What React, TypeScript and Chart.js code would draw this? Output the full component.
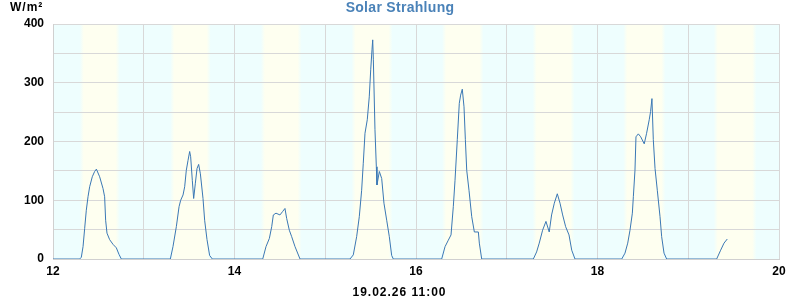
import React, { useEffect, useRef } from "react";
import { Chart, registerables } from "chart.js";

Chart.register(...registerables);

// ---- data (x in day-of-month, value in W/m²) ----
const startTimes = [12.0, 12.294];
const startValues = [0, 0];

const day12Times = [12.312, 12.331, 12.349, 12.367, 12.386, 12.404, 12.433, 12.459, 12.478, 12.514, 12.551, 12.569, 12.58, 12.595, 12.624, 12.661, 12.698, 12.727, 12.753];
const day12Values = [3, 21, 52, 83, 106, 123, 140, 149, 153, 140, 120, 106, 66, 44, 33, 25, 19, 8, 0];

const day13Times = [13.293, 13.322, 13.359, 13.389, 13.407, 13.433, 13.451, 13.469, 13.488, 13.506, 13.517, 13.535, 13.55, 13.568, 13.587, 13.605, 13.624, 13.653, 13.671, 13.697, 13.726, 13.756];
const day13Values = [0, 21, 55, 89, 100, 109, 123, 151, 168, 183, 174, 134, 103, 128, 154, 161, 145, 103, 66, 33, 6, 0];

const day14Times = [14.311, 14.347, 14.384, 14.41, 14.428, 14.457, 14.501, 14.531, 14.556, 14.575, 14.604, 14.63, 14.667, 14.722];
const day14Values = [0, 21, 35, 55, 75, 78, 75, 81, 86, 69, 49, 38, 21, 0];

const day15Times = [15.273, 15.309, 15.346, 15.375, 15.401, 15.419, 15.438, 15.463, 15.485, 15.501, 15.515, 15.523, 15.53, 15.548, 15.563, 15.57, 15.596, 15.622, 15.647, 15.677, 15.706, 15.732, 15.75];
const day15Values = [0, 7, 38, 72, 117, 163, 214, 237, 276, 322, 356, 373, 339, 220, 157, 126, 149, 137, 95, 66, 38, 6, 0];

const day16Times = [16.283, 16.32, 16.356, 16.386, 16.411, 16.43, 16.455, 16.477, 16.492, 16.51, 16.529, 16.544, 16.559, 16.584, 16.614, 16.643, 16.687, 16.698, 16.724];
const day16Values = [0, 21, 32, 41, 89, 134, 203, 265, 279, 289, 259, 203, 151, 117, 72, 46, 46, 27, 0];

const day17Times = [17.293, 17.329, 17.358, 17.395, 17.432, 17.468, 17.494, 17.524, 17.557, 17.587, 17.616, 17.649, 17.686, 17.716, 17.752];
const day17Values = [0, 12, 27, 49, 64, 46, 75, 95, 111, 95, 75, 55, 41, 15, 0];

const day18Times = [18.267, 18.303, 18.333, 18.358, 18.384, 18.395, 18.413, 18.424, 18.45, 18.476, 18.515, 18.541, 18.57, 18.585, 18.6, 18.615, 18.634, 18.659, 18.689, 18.707, 18.733, 18.762];
const day18Values = [0, 10, 27, 49, 78, 106, 151, 208, 213, 208, 196, 214, 237, 251, 273, 203, 154, 117, 72, 38, 10, 0];

const day19Times = [19.313, 19.357, 19.394, 19.43];
const day19Values = [0, 15, 27, 34];

// daylight bands (sunrise / sunset, day-of-month units)
const sunrise = [12.318, 13.315, 14.313, 15.311, 16.309, 17.307, 18.305, 19.303];
const sunset = [12.714, 13.716, 14.718, 15.72, 16.722, 17.724, 18.726, 19.728];

const xTickLabels = ["12", "14", "16", "18", "20"];
const yTickLabels = ["0", "100", "200", "300", "400"];

const titleText = "Solar Strahlung";
const unitText = "W/m²";
const footerText = "19.02.26 11:00";

const FONT = "'Liberation Sans', Arial, sans-serif";

function buildPoints() {
  const t = [...startTimes, ...day12Times, ...day13Times, ...day14Times, ...day15Times, ...day16Times, ...day17Times, ...day18Times, ...day19Times];
  const v = [...startValues, ...day12Values, ...day13Values, ...day14Values, ...day15Values, ...day16Values, ...day17Values, ...day18Values, ...day19Values];
  return t.map((x, i) => ({ x, y: v[i] }));
}

const bandsPlugin = {
  id: "bands",
  beforeDraw(chart: any) {
    const { ctx, chartArea, scales } = chart;
    const xs = scales.x;
    ctx.save();
    ctx.fillStyle = "#eefefe";
    ctx.fillRect(chartArea.left, chartArea.top, chartArea.right - chartArea.left, chartArea.bottom - chartArea.top);
    const w = 0.022;
    for (let i = 0; i < sunrise.length; i++) {
      const a = xs.getPixelForValue(sunrise[i] - w);
      const b = xs.getPixelForValue(sunset[i] + w);
      const aa = Math.max(a, chartArea.left);
      const bb = Math.min(b, chartArea.right);
      const g = ctx.createLinearGradient(a, 0, b, 0);
      const f = (2 * w) / (sunset[i] - sunrise[i] + 2 * w);
      g.addColorStop(0, "#eefefe");
      g.addColorStop(f, "#fefff0");
      g.addColorStop(1 - f, "#fefff0");
      g.addColorStop(1, "#eefefe");
      ctx.fillStyle = g;
      ctx.fillRect(aa, chartArea.top, bb - aa, chartArea.bottom - chartArea.top);
    }
    ctx.restore();
  },
};

const textPlugin = {
  id: "texts",
  afterDraw(chart: any) {
    const { ctx } = chart;
    ctx.save();
    ctx.textBaseline = "middle";
    ctx.font = `bold 14px ${FONT}`;
    (ctx as any).letterSpacing = "0.3px";
    ctx.fillStyle = "#4a82b8";
    ctx.textAlign = "center";
    ctx.fillText(titleText, 400, 8);
    ctx.font = `bold 12px ${FONT}`;
    (ctx as any).letterSpacing = "1px";
    ctx.fillStyle = "#000";
    ctx.textAlign = "left";
    ctx.fillText(unitText, 10, 8);
    ctx.textAlign = "center";
    ctx.fillText(footerText, 399.5, 293);
    ctx.restore();
  },
};

export default function App() {
  const ref = useRef<HTMLCanvasElement | null>(null);
  useEffect(() => {
    if (!ref.current) return;
    const chart = new Chart(ref.current, {
      type: "line",
      data: {
        datasets: [
          {
            data: buildPoints(),
            borderColor: "#3a78b5",
            borderWidth: 1,
            pointRadius: 0,
            tension: 0,
            fill: false,
          },
        ],
      },
      options: {
        animation: false,
        responsive: false,
        devicePixelRatio: 1,
        layout: { padding: { top: 24, right: 21, left: 0, bottom: 0 } },
        plugins: { legend: { display: false }, title: { display: false }, tooltip: { enabled: false } },
        scales: {
          x: {
            type: "linear",
            min: 12,
            max: 20,
            afterFit: (s: any) => { s.height = 41; },
            grid: { color: "#d8d8d8", drawTicks: false, lineWidth: 1 },
            border: { color: "#d0d0d0" },
            ticks: {
              stepSize: 1,
              autoSkip: false,
              maxRotation: 0,
              padding: 5,
              color: "#000",
              font: { family: FONT, size: 12, weight: "bold" },
              callback: (v: any) => (xTickLabels.includes(String(v)) ? String(v) : ""),
            },
          },
          y: {
            min: 0,
            max: 400,
            afterFit: (s: any) => { s.width = 53; },
            grid: { color: "#d8d8d8", drawTicks: false, lineWidth: 1 },
            border: { color: "#d0d0d0" },
            ticks: {
              stepSize: 50,
              autoSkip: false,
              padding: 9,
              color: "#000",
              font: { family: FONT, size: 12, weight: "bold" },
              callback: (v: any) => (yTickLabels.includes(String(v)) ? String(v) : ""),
            },
          },
        },
      },
      plugins: [bandsPlugin, textPlugin],
    });
    return () => chart.destroy();
  }, []);
  return (
    <div style={{ position: "fixed", left: 0, top: 0, width: 800, height: 300, background: "#fff" }}>
      <canvas ref={ref} width={800} height={300} style={{ width: 800, height: 300, display: "block" }} />
    </div>
  );
}
